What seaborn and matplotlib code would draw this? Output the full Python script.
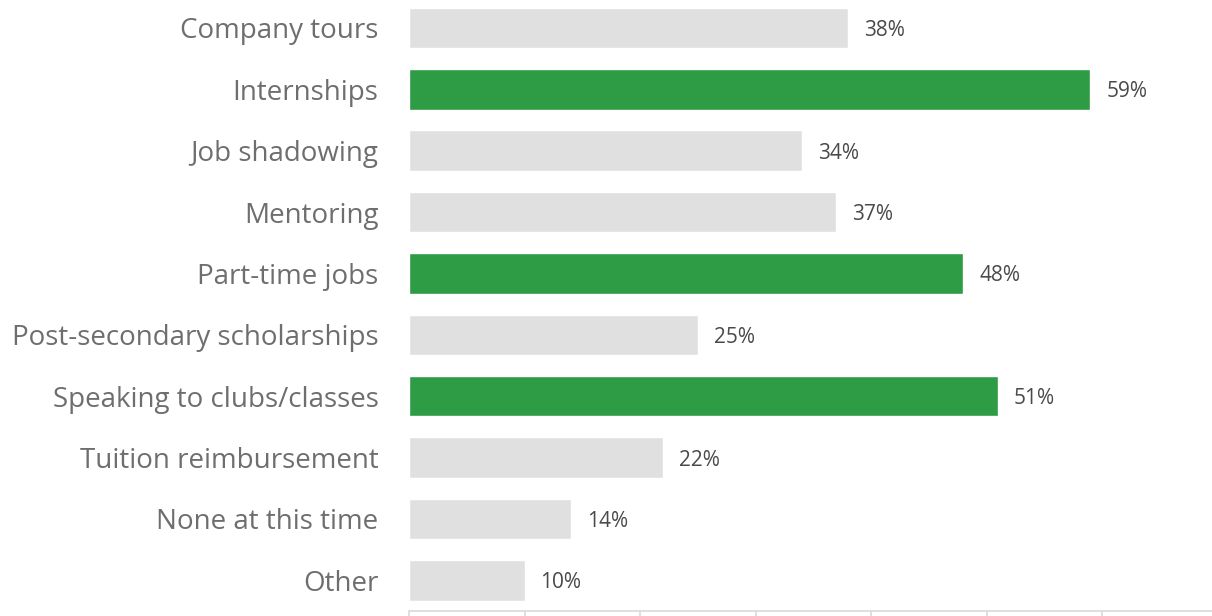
import matplotlib
matplotlib.use("Agg")
import matplotlib.pyplot as plt
import seaborn as sns
import pandas as pd

categories = [
    "Company tours",
    "Internships",
    "Job shadowing",
    "Mentoring",
    "Part-time jobs",
    "Post-secondary scholarships",
    "Speaking to clubs/classes",
    "Tuition reimbursement",
    "None at this time",
    "Other",
]
values = [38, 59, 34, 37, 48, 25, 51, 22, 14, 10]
highlighted = [False, True, False, False, True, False, True, False, False, False]

GREEN = "#2E9B45"
GRAY = "#E0E0E0"
LABEL_TEXT = "#6E6E6E"
VALUE_TEXT = "#4A4A4A"

sns.set_theme(style="white")
plt.rcParams["font.family"] = ["Open Sans", "DejaVu Sans"]

df = pd.DataFrame({"category": categories, "value": values})
palette = {c: (GREEN if h else GRAY) for c, h in zip(categories, highlighted)}

fig = plt.figure(figsize=(12.12, 6.16), dpi=100)
ax = fig.add_axes([409 / 1212, 5 / 616, 808.5 / 1212, 613.7 / 616])

sns.barplot(
    data=df, y="category", x="value", hue="category", palette=palette,
    orient="h", width=0.66, legend=False, saturation=1, ax=ax,
)

ax.set_xlim(0, 70)
ax.set_xticks(range(0, 71, 10))
ax.set_ylim(len(categories) - 0.5, -0.5)
ax.set_xlabel("")
ax.set_ylabel("")

for i, v in enumerate(values):
    ax.annotate(f"{v}%", xy=(v, i), xytext=(11.5, 0), textcoords="offset points",
                va="center_baseline", ha="left", fontsize=15, color=VALUE_TEXT)

ax.tick_params(axis="y", length=0, pad=22, labelsize=20, labelcolor=LABEL_TEXT)
for lbl in ax.get_yticklabels():
    lbl.set_verticalalignment("center_baseline")
ax.tick_params(axis="x", length=8, width=1.2, color="#D9D9D9", labelbottom=False,
               direction="out", bottom=True)

for side in ["top", "right", "left"]:
    ax.spines[side].set_visible(False)
ax.spines["bottom"].set_color("#D9D9D9")
ax.spines["bottom"].set_linewidth(1.2)

fig.savefig("out.png", dpi=100)
